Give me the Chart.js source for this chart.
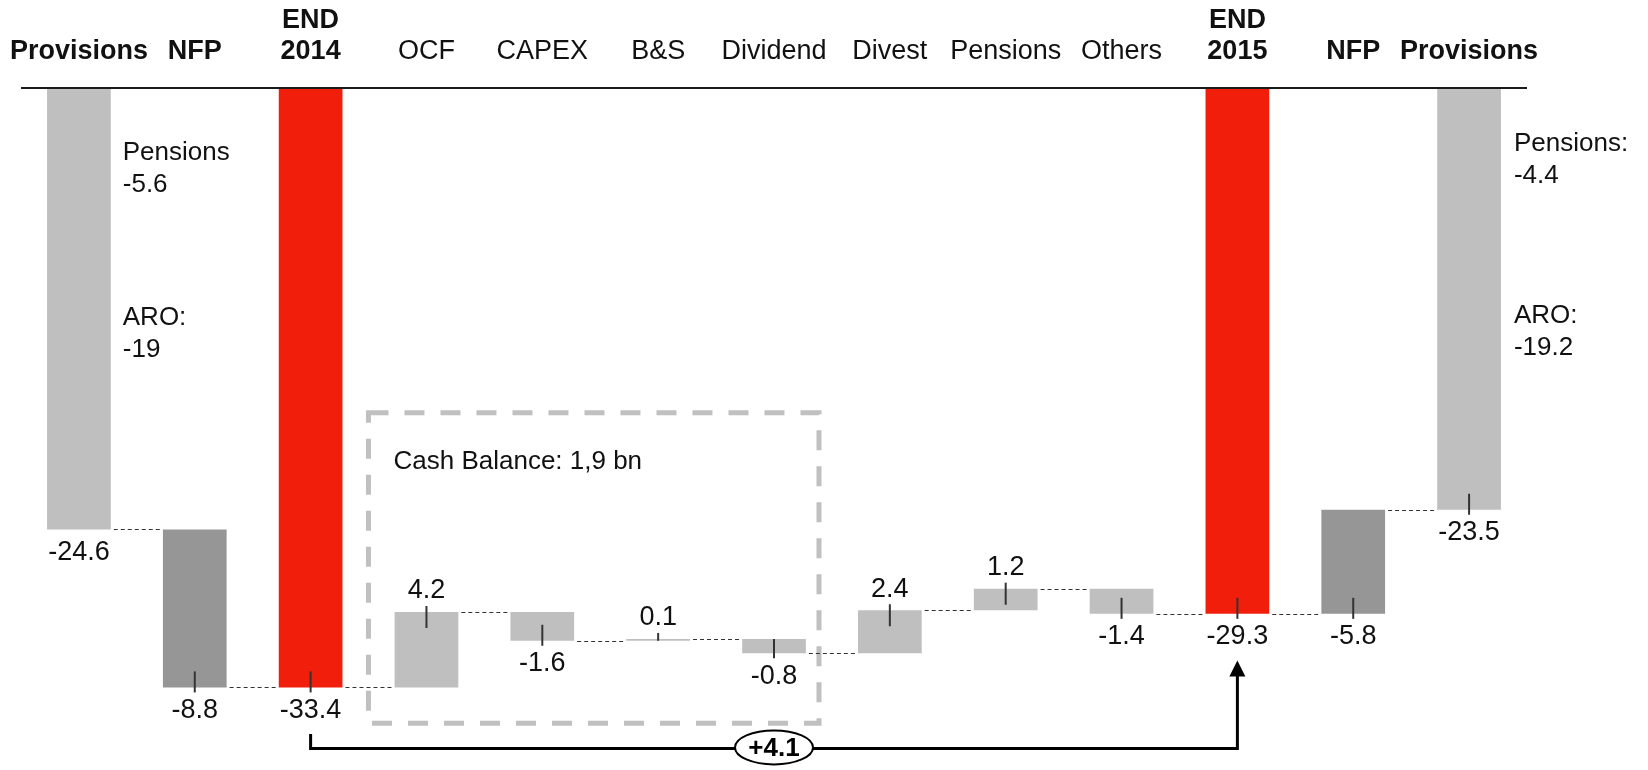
<!DOCTYPE html>
<html>
<head>
<meta charset="utf-8">
<script src="https://cdn.jsdelivr.net/npm/chart.js@4.4.1/dist/chart.umd.min.js"></script>
<style>
  html, body { margin: 0; padding: 0; background: #fff; }
  #wrap { width: 1648px; height: 770px; position: relative; }
</style>
</head>
<body>
<div id="wrap"><canvas id="chart"></canvas></div>
<script>
// Top labels (one or two lines each)
const categories = [['Provisions'], ['NFP'], ['END', '2014'], ['OCF'], ['CAPEX'], ['B&S'], ['Dividend'], ['Divest'], ['Pensions'], ['Others'], ['END', '2015'], ['NFP'], ['Provisions']];
const boldCategories = [true, true, true, false, false, false, false, false, false, false, true, true, true];

// Values written on the bars
const values = [-24.6, -8.8, -33.4, 4.2, -1.6, 0.1, -0.8, 2.4, 1.2, -1.4, -29.3, -5.8, -23.5];

// How each bar sits in the waterfall: step from running total, total from zero, or unwind back to zero
const barTypes = ['step', 'step', 'total', 'step', 'step', 'step', 'step', 'step', 'step', 'step', 'total', 'unwind', 'unwind'];

// Provision splits written next to the provision bars
const leftSplitLabels = ['Pensions', 'ARO:'];
const leftSplitValues = [-5.6, -19];
const rightSplitLabels = ['Pensions:', 'ARO:'];
const rightSplitValues = [-4.4, -19.2];

// Cash box and change between the two year ends
const cashBalanceText = 'Cash Balance: 1,9 bn';
const netChange = 4.1;

// Colours
const LIGHT = '#bfbfbf', DARK = '#969696', RED = '#f11e0c';
const barColors = [LIGHT, DARK, RED, LIGHT, LIGHT, LIGHT, LIGHT, LIGHT, LIGHT, LIGHT, RED, DARK, LIGHT];
const FONT = '"Liberation Sans", Arial, sans-serif';

// Build floating ranges from the values
const ranges = [];
let running = 0;
values.forEach((v, i) => {
    if (barTypes[i] === 'total') {
        ranges.push([0, v]);
        running = v;
    } else if (barTypes[i] === 'unwind') {
        ranges.push([running, running - v]);
        running = running - v;
    } else {
        ranges.push([running, running + v]);
        running = running + v;
    }
});

const decor = {
    id: 'decor',
    beforeDatasetsDraw(chart) {
        const { ctx, scales: { x, y } } = chart;
        // dashed box round the cash items
        const bl = x.getPixelForValue(3) - 58;
        const br = x.getPixelForValue(6) + 45;
        const bt = y.getPixelForValue(-18.1);
        const bb = y.getPixelForValue(-35.4);
        ctx.save();
        ctx.strokeStyle = '#c0c0c0';
        ctx.lineWidth = 5;
        ctx.setLineDash([20, 16]);
        ctx.strokeRect(bl, bt, br - bl, bb - bt);
        ctx.setLineDash([]);
        ctx.fillStyle = '#111';
        ctx.font = '26px ' + FONT;
        ctx.textBaseline = 'middle';
        ctx.textAlign = 'left';
        ctx.fillText(cashBalanceText, bl + 25, bt + 49);
        ctx.restore();
    },
    afterDatasetsDraw(chart) {
        const { ctx, scales: { x, y } } = chart;
        const bars = chart.getDatasetMeta(0).data;
        const half = i => bars[i].width / 2;
        const y0 = y.getPixelForValue(0);
        ctx.save();

        // axis line along the top
        ctx.strokeStyle = '#1a1a1a';
        ctx.lineWidth = 2;
        ctx.beginPath();
        ctx.moveTo(chart.chartArea.left, y0);
        ctx.lineTo(chart.chartArea.right, y0);
        ctx.stroke();

        // category labels
        ctx.fillStyle = '#111';
        ctx.textAlign = 'center';
        ctx.textBaseline = 'middle';
        categories.forEach((lines, i) => {
            ctx.font = (boldCategories[i] ? 'bold ' : '') + '27px ' + FONT;
            const cx = x.getPixelForValue(i);
            lines.forEach((t, k) => {
                ctx.fillText(t, cx, y0 - 36 - (lines.length - 1 - k) * 31);
            });
        });

        // dashed connectors
        ctx.strokeStyle = '#333';
        ctx.lineWidth = 1;
        ctx.setLineDash([4, 3]);
        for (let i = 0; i < ranges.length - 1; i++) {
            const ly = Math.round(y.getPixelForValue(ranges[i][1])) + 0.5;
            ctx.beginPath();
            ctx.moveTo(x.getPixelForValue(i) + half(i) + 3, ly);
            ctx.lineTo(x.getPixelForValue(i + 1) - half(i + 1) - 3, ly);
            ctx.stroke();
        }
        ctx.setLineDash([]);

        // ticks and value labels
        ctx.font = '27px ' + FONT;
        values.forEach((v, i) => {
            const cx = x.getPixelForValue(i);
            const lo = y.getPixelForValue(Math.min(...ranges[i]));
            const hi = y.getPixelForValue(Math.max(...ranges[i]));
            let t1, t2, ty;
            if (v < 0) {
                t1 = Math.max(lo - 16, hi); t2 = lo + 5; ty = lo + 23;
            } else {
                t1 = hi - 6; t2 = Math.min(hi + 16, lo); ty = hi - 21;
            }
            if (i > 0) {
                ctx.strokeStyle = '#333';
                ctx.lineWidth = 2;
                ctx.beginPath();
                ctx.moveTo(cx, t1);
                ctx.lineTo(cx, t2);
                ctx.stroke();
            }
            ctx.fillStyle = '#111';
            ctx.fillText(v.toFixed(1), cx, ty);
        });

        // provision splits
        ctx.textAlign = 'left';
        ctx.font = '26px ' + FONT;
        const splitAt = [-3.6, -12.8];
        const lx = x.getPixelForValue(0) + half(0) + 12;
        leftSplitLabels.forEach((t, k) => {
            const py = y.getPixelForValue(splitAt[k]);
            ctx.fillText(t, lx, py);
            ctx.fillText(String(leftSplitValues[k]), lx, py + 32);
        });
        const rSplitAt = [-3.1, -12.7];
        const rx = x.getPixelForValue(12) + half(12) + 13;
        rightSplitLabels.forEach((t, k) => {
            const py = y.getPixelForValue(rSplitAt[k]);
            ctx.fillText(t, rx, py);
            ctx.fillText(String(rightSplitValues[k]), rx, py + 32);
        });

        // bracket from END 2014 to END 2015
        const x1 = x.getPixelForValue(2), x2 = x.getPixelForValue(10);
        const yTop = y.getPixelForValue(-36.0);
        const yLine = y.getPixelForValue(-36.8);
        const yTip = y.getPixelForValue(-31.9);
        ctx.strokeStyle = '#000';
        ctx.lineWidth = 3;
        ctx.beginPath();
        ctx.moveTo(x1, yTop);
        ctx.lineTo(x1, yLine);
        ctx.lineTo(x2, yLine);
        ctx.lineTo(x2, yTip + 14);
        ctx.stroke();
        ctx.fillStyle = '#000';
        ctx.beginPath();
        ctx.moveTo(x2, yTip);
        ctx.lineTo(x2 - 8, yTip + 16);
        ctx.lineTo(x2 + 8, yTip + 16);
        ctx.closePath();
        ctx.fill();

        // ellipse with the change
        const ex = (x1 + x2) / 2;
        ctx.beginPath();
        ctx.ellipse(ex, yLine - 1, 39, 17, 0, 0, Math.PI * 2);
        ctx.fillStyle = '#fff';
        ctx.fill();
        ctx.lineWidth = 2;
        ctx.stroke();
        ctx.fillStyle = '#000';
        ctx.textAlign = 'center';
        ctx.font = 'bold 26px ' + FONT;
        ctx.fillText('+' + netChange.toFixed(1), ex, yLine);

        ctx.restore();
    }
};

const chart = new Chart(document.getElementById('chart').getContext('2d'), {
    type: 'bar',
    data: {
        labels: categories.map(c => c.join(' ')),
        datasets: [{
            data: ranges,
            backgroundColor: barColors,
            borderWidth: 0,
            categoryPercentage: 1,
            barPercentage: 0.55
        }]
    },
    options: {
        responsive: true,
        maintainAspectRatio: false,
        animation: false,
        layout: { padding: { top: 88, bottom: 9, left: 21, right: 121 } },
        scales: {
            x: { display: false },
            y: { display: false, min: -37.5, max: 0 }
        },
        plugins: {
            legend: { display: false },
            tooltip: { enabled: false }
        }
    },
    plugins: [decor]
});
</script>
</body>
</html>
